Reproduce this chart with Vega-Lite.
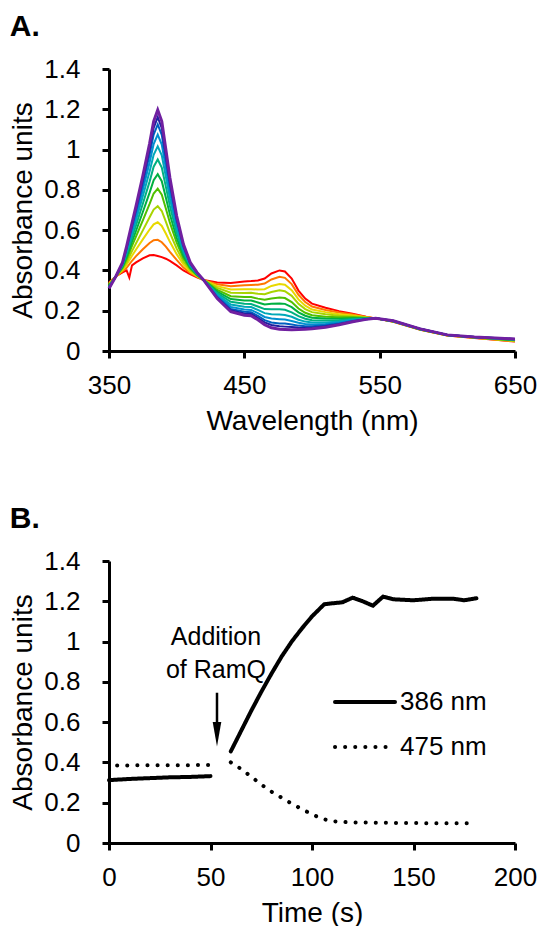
{
"$schema": "https://vega.github.io/schema/vega-lite/v6.json",
"padding": {"left": 9, "top": 12, "right": 5, "bottom": 2},
"background": "white",
"spacing": 69,
"resolve": {"legend": {"strokeDash": "independent"}},
"config": {
  "font": "Liberation Sans",
  "view": {"stroke": null},
  "axis": {"domainColor": "black", "domainWidth": 3, "tickColor": "black", "tickWidth": 3, "tickSize": 7, "grid": false, "labelFontSize": 26, "labelColor": "black", "titleFontSize": 28, "titleFontWeight": "normal", "titleColor": "black", "labelFont": "Liberation Sans", "titleFont": "Liberation Sans", "labelFlush": false, "labelOverlap": false, "labelBound": false},
  "axisX": {"labelPadding": 14, "titlePadding": 9},
  "axisY": {"labelPadding": 22, "titlePadding": 6},
  "title": {"font": "Liberation Sans", "fontSize": 30, "fontWeight": "bold", "anchor": "start", "frame": "bounds", "color": "black", "offset": 14}
},
"vconcat": [
{
  "title": {"text": "A."},
  "width": 406, "height": 282,
  "data": {"values": [
{"c":1,"w":350,"a":0.34},{"c":1,"w":355,"a":0.37},{"c":1,"w":360,"a":0.39},{"c":1,"w":363,"a":0.40},{"c":1,"w":365,"a":0.365},{"c":1,"w":367,"a":0.425},{"c":1,"w":370,"a":0.44},{"c":1,"w":375,"a":0.46},{"c":1,"w":380,"a":0.475},{"c":1,"w":383,"a":0.477},{"c":1,"w":386,"a":0.472},{"c":1,"w":389,"a":0.466},{"c":1,"w":392,"a":0.458},{"c":1,"w":395,"a":0.447},{"c":1,"w":400,"a":0.425},{"c":1,"w":405,"a":0.40},{"c":1,"w":410,"a":0.382},{"c":1,"w":415,"a":0.366},{"c":1,"w":420,"a":0.352},{"c":1,"w":430,"a":0.34},{"c":1,"w":440,"a":0.338},{"c":1,"w":450,"a":0.345},{"c":1,"w":455,"a":0.347},{"c":1,"w":460,"a":0.35},{"c":1,"w":465,"a":0.36},{"c":1,"w":470,"a":0.385},{"c":1,"w":476,"a":0.40},{"c":1,"w":480,"a":0.395},{"c":1,"w":485,"a":0.36},{"c":1,"w":490,"a":0.30},{"c":1,"w":495,"a":0.26},{"c":1,"w":500,"a":0.235},{"c":1,"w":510,"a":0.215},{"c":1,"w":520,"a":0.198},{"c":1,"w":530,"a":0.185},{"c":1,"w":540,"a":0.17},{"c":1,"w":547,"a":0.162},{"c":1,"w":560,"a":0.145},{"c":1,"w":580,"a":0.105},{"c":1,"w":600,"a":0.077},{"c":1,"w":620,"a":0.065},{"c":1,"w":650,"a":0.047},
{"c":2,"w":350,"a":0.337},{"c":2,"w":355,"a":0.37},{"c":2,"w":360,"a":0.396},{"c":2,"w":363,"a":0.413},{"c":2,"w":367,"a":0.448},{"c":2,"w":370,"a":0.471},{"c":2,"w":375,"a":0.505},{"c":2,"w":380,"a":0.536},{"c":2,"w":383,"a":0.55},{"c":2,"w":386,"a":0.552},{"c":2,"w":389,"a":0.54},{"c":2,"w":392,"a":0.518},{"c":2,"w":395,"a":0.492},{"c":2,"w":400,"a":0.452},{"c":2,"w":405,"a":0.414},{"c":2,"w":410,"a":0.388},{"c":2,"w":415,"a":0.369},{"c":2,"w":420,"a":0.352},{"c":2,"w":430,"a":0.331},{"c":2,"w":440,"a":0.322},{"c":2,"w":450,"a":0.327},{"c":2,"w":455,"a":0.328},{"c":2,"w":460,"a":0.329},{"c":2,"w":465,"a":0.335},{"c":2,"w":470,"a":0.355},{"c":2,"w":476,"a":0.368},{"c":2,"w":480,"a":0.363},{"c":2,"w":485,"a":0.332},{"c":2,"w":490,"a":0.279},{"c":2,"w":495,"a":0.243},{"c":2,"w":500,"a":0.221},{"c":2,"w":510,"a":0.204},{"c":2,"w":520,"a":0.191},{"c":2,"w":530,"a":0.181},{"c":2,"w":540,"a":0.169},{"c":2,"w":547,"a":0.162},{"c":2,"w":560,"a":0.146},{"c":2,"w":580,"a":0.106},{"c":2,"w":600,"a":0.077},{"c":2,"w":620,"a":0.066},{"c":2,"w":650,"a":0.048},
{"c":3,"w":350,"a":0.333},{"c":3,"w":355,"a":0.37},{"c":3,"w":360,"a":0.402},{"c":3,"w":363,"a":0.428},{"c":3,"w":367,"a":0.473},{"c":3,"w":370,"a":0.504},{"c":3,"w":375,"a":0.554},{"c":3,"w":380,"a":0.603},{"c":3,"w":383,"a":0.629},{"c":3,"w":386,"a":0.639},{"c":3,"w":389,"a":0.621},{"c":3,"w":392,"a":0.583},{"c":3,"w":395,"a":0.542},{"c":3,"w":400,"a":0.481},{"c":3,"w":405,"a":0.43},{"c":3,"w":410,"a":0.395},{"c":3,"w":415,"a":0.372},{"c":3,"w":420,"a":0.352},{"c":3,"w":430,"a":0.322},{"c":3,"w":440,"a":0.305},{"c":3,"w":450,"a":0.307},{"c":3,"w":455,"a":0.307},{"c":3,"w":460,"a":0.305},{"c":3,"w":465,"a":0.307},{"c":3,"w":470,"a":0.323},{"c":3,"w":476,"a":0.333},{"c":3,"w":480,"a":0.329},{"c":3,"w":485,"a":0.302},{"c":3,"w":490,"a":0.256},{"c":3,"w":495,"a":0.225},{"c":3,"w":500,"a":0.206},{"c":3,"w":510,"a":0.193},{"c":3,"w":520,"a":0.182},{"c":3,"w":530,"a":0.176},{"c":3,"w":540,"a":0.167},{"c":3,"w":547,"a":0.162},{"c":3,"w":560,"a":0.146},{"c":3,"w":580,"a":0.106},{"c":3,"w":600,"a":0.078},{"c":3,"w":620,"a":0.066},{"c":3,"w":650,"a":0.05},
{"c":4,"w":350,"a":0.33},{"c":4,"w":355,"a":0.37},{"c":4,"w":360,"a":0.407},{"c":4,"w":363,"a":0.441},{"c":4,"w":367,"a":0.496},{"c":4,"w":370,"a":0.535},{"c":4,"w":375,"a":0.599},{"c":4,"w":380,"a":0.664},{"c":4,"w":383,"a":0.702},{"c":4,"w":386,"a":0.719},{"c":4,"w":389,"a":0.695},{"c":4,"w":392,"a":0.642},{"c":4,"w":395,"a":0.587},{"c":4,"w":400,"a":0.508},{"c":4,"w":405,"a":0.444},{"c":4,"w":410,"a":0.402},{"c":4,"w":415,"a":0.374},{"c":4,"w":420,"a":0.352},{"c":4,"w":430,"a":0.313},{"c":4,"w":440,"a":0.289},{"c":4,"w":450,"a":0.288},{"c":4,"w":455,"a":0.289},{"c":4,"w":460,"a":0.284},{"c":4,"w":465,"a":0.282},{"c":4,"w":470,"a":0.293},{"c":4,"w":476,"a":0.301},{"c":4,"w":480,"a":0.297},{"c":4,"w":485,"a":0.274},{"c":4,"w":490,"a":0.234},{"c":4,"w":495,"a":0.208},{"c":4,"w":500,"a":0.193},{"c":4,"w":510,"a":0.182},{"c":4,"w":520,"a":0.175},{"c":4,"w":530,"a":0.171},{"c":4,"w":540,"a":0.166},{"c":4,"w":547,"a":0.162},{"c":4,"w":560,"a":0.147},{"c":4,"w":580,"a":0.107},{"c":4,"w":600,"a":0.078},{"c":4,"w":620,"a":0.067},{"c":4,"w":650,"a":0.051},
{"c":5,"w":350,"a":0.326},{"c":5,"w":355,"a":0.37},{"c":5,"w":360,"a":0.413},{"c":5,"w":363,"a":0.455},{"c":5,"w":367,"a":0.522},{"c":5,"w":370,"a":0.569},{"c":5,"w":375,"a":0.649},{"c":5,"w":380,"a":0.73},{"c":5,"w":383,"a":0.782},{"c":5,"w":386,"a":0.806},{"c":5,"w":389,"a":0.776},{"c":5,"w":392,"a":0.707},{"c":5,"w":395,"a":0.637},{"c":5,"w":400,"a":0.538},{"c":5,"w":405,"a":0.46},{"c":5,"w":410,"a":0.409},{"c":5,"w":415,"a":0.377},{"c":5,"w":420,"a":0.352},{"c":5,"w":430,"a":0.303},{"c":5,"w":440,"a":0.272},{"c":5,"w":450,"a":0.268},{"c":5,"w":455,"a":0.268},{"c":5,"w":460,"a":0.26},{"c":5,"w":465,"a":0.254},{"c":5,"w":470,"a":0.261},{"c":5,"w":476,"a":0.266},{"c":5,"w":480,"a":0.263},{"c":5,"w":485,"a":0.243},{"c":5,"w":490,"a":0.211},{"c":5,"w":495,"a":0.19},{"c":5,"w":500,"a":0.178},{"c":5,"w":510,"a":0.17},{"c":5,"w":520,"a":0.167},{"c":5,"w":530,"a":0.167},{"c":5,"w":540,"a":0.164},{"c":5,"w":547,"a":0.162},{"c":5,"w":560,"a":0.147},{"c":5,"w":580,"a":0.107},{"c":5,"w":600,"a":0.078},{"c":5,"w":620,"a":0.067},{"c":5,"w":650,"a":0.053},
{"c":6,"w":350,"a":0.323},{"c":6,"w":355,"a":0.37},{"c":6,"w":360,"a":0.418},{"c":6,"w":363,"a":0.467},{"c":6,"w":367,"a":0.543},{"c":6,"w":370,"a":0.597},{"c":6,"w":375,"a":0.69},{"c":6,"w":380,"a":0.786},{"c":6,"w":383,"a":0.848},{"c":6,"w":386,"a":0.878},{"c":6,"w":389,"a":0.843},{"c":6,"w":392,"a":0.762},{"c":6,"w":395,"a":0.678},{"c":6,"w":400,"a":0.562},{"c":6,"w":405,"a":0.473},{"c":6,"w":410,"a":0.414},{"c":6,"w":415,"a":0.379},{"c":6,"w":420,"a":0.352},{"c":6,"w":430,"a":0.295},{"c":6,"w":440,"a":0.258},{"c":6,"w":450,"a":0.251},{"c":6,"w":455,"a":0.251},{"c":6,"w":460,"a":0.241},{"c":6,"w":465,"a":0.231},{"c":6,"w":470,"a":0.234},{"c":6,"w":476,"a":0.236},{"c":6,"w":480,"a":0.234},{"c":6,"w":485,"a":0.218},{"c":6,"w":490,"a":0.192},{"c":6,"w":495,"a":0.175},{"c":6,"w":500,"a":0.165},{"c":6,"w":510,"a":0.161},{"c":6,"w":520,"a":0.16},{"c":6,"w":530,"a":0.163},{"c":6,"w":540,"a":0.163},{"c":6,"w":547,"a":0.162},{"c":6,"w":560,"a":0.148},{"c":6,"w":580,"a":0.108},{"c":6,"w":600,"a":0.079},{"c":6,"w":620,"a":0.068},{"c":6,"w":650,"a":0.054},
{"c":7,"w":350,"a":0.32},{"c":7,"w":355,"a":0.37},{"c":7,"w":360,"a":0.423},{"c":7,"w":363,"a":0.479},{"c":7,"w":367,"a":0.564},{"c":7,"w":370,"a":0.625},{"c":7,"w":375,"a":0.731},{"c":7,"w":380,"a":0.841},{"c":7,"w":383,"a":0.915},{"c":7,"w":386,"a":0.951},{"c":7,"w":389,"a":0.911},{"c":7,"w":392,"a":0.816},{"c":7,"w":395,"a":0.72},{"c":7,"w":400,"a":0.587},{"c":7,"w":405,"a":0.486},{"c":7,"w":410,"a":0.42},{"c":7,"w":415,"a":0.382},{"c":7,"w":420,"a":0.352},{"c":7,"w":430,"a":0.287},{"c":7,"w":440,"a":0.244},{"c":7,"w":450,"a":0.235},{"c":7,"w":455,"a":0.233},{"c":7,"w":460,"a":0.221},{"c":7,"w":465,"a":0.208},{"c":7,"w":470,"a":0.207},{"c":7,"w":476,"a":0.207},{"c":7,"w":480,"a":0.205},{"c":7,"w":485,"a":0.192},{"c":7,"w":490,"a":0.173},{"c":7,"w":495,"a":0.16},{"c":7,"w":500,"a":0.153},{"c":7,"w":510,"a":0.151},{"c":7,"w":520,"a":0.153},{"c":7,"w":530,"a":0.159},{"c":7,"w":540,"a":0.161},{"c":7,"w":547,"a":0.162},{"c":7,"w":560,"a":0.148},{"c":7,"w":580,"a":0.108},{"c":7,"w":600,"a":0.079},{"c":7,"w":620,"a":0.068},{"c":7,"w":650,"a":0.056},
{"c":8,"w":350,"a":0.318},{"c":8,"w":355,"a":0.37},{"c":8,"w":360,"a":0.428},{"c":8,"w":363,"a":0.49},{"c":8,"w":367,"a":0.583},{"c":8,"w":370,"a":0.65},{"c":8,"w":375,"a":0.768},{"c":8,"w":380,"a":0.891},{"c":8,"w":383,"a":0.974},{"c":8,"w":386,"a":1.016},{"c":8,"w":389,"a":0.972},{"c":8,"w":392,"a":0.865},{"c":8,"w":395,"a":0.757},{"c":8,"w":400,"a":0.609},{"c":8,"w":405,"a":0.498},{"c":8,"w":410,"a":0.426},{"c":8,"w":415,"a":0.384},{"c":8,"w":420,"a":0.352},{"c":8,"w":430,"a":0.28},{"c":8,"w":440,"a":0.231},{"c":8,"w":450,"a":0.22},{"c":8,"w":455,"a":0.218},{"c":8,"w":460,"a":0.204},{"c":8,"w":465,"a":0.188},{"c":8,"w":470,"a":0.183},{"c":8,"w":476,"a":0.181},{"c":8,"w":480,"a":0.179},{"c":8,"w":485,"a":0.17},{"c":8,"w":490,"a":0.155},{"c":8,"w":495,"a":0.146},{"c":8,"w":500,"a":0.141},{"c":8,"w":510,"a":0.142},{"c":8,"w":520,"a":0.147},{"c":8,"w":530,"a":0.155},{"c":8,"w":540,"a":0.16},{"c":8,"w":547,"a":0.162},{"c":8,"w":560,"a":0.149},{"c":8,"w":580,"a":0.109},{"c":8,"w":600,"a":0.079},{"c":8,"w":620,"a":0.069},{"c":8,"w":650,"a":0.057},
{"c":9,"w":350,"a":0.315},{"c":9,"w":355,"a":0.37},{"c":9,"w":360,"a":0.432},{"c":9,"w":363,"a":0.50},{"c":9,"w":367,"a":0.599},{"c":9,"w":370,"a":0.672},{"c":9,"w":375,"a":0.80},{"c":9,"w":380,"a":0.936},{"c":9,"w":383,"a":1.027},{"c":9,"w":386,"a":1.074},{"c":9,"w":389,"a":1.025},{"c":9,"w":392,"a":0.908},{"c":9,"w":395,"a":0.79},{"c":9,"w":400,"a":0.628},{"c":9,"w":405,"a":0.508},{"c":9,"w":410,"a":0.43},{"c":9,"w":415,"a":0.386},{"c":9,"w":420,"a":0.352},{"c":9,"w":430,"a":0.274},{"c":9,"w":440,"a":0.219},{"c":9,"w":450,"a":0.206},{"c":9,"w":455,"a":0.204},{"c":9,"w":460,"a":0.188},{"c":9,"w":465,"a":0.169},{"c":9,"w":470,"a":0.161},{"c":9,"w":476,"a":0.158},{"c":9,"w":480,"a":0.156},{"c":9,"w":485,"a":0.149},{"c":9,"w":490,"a":0.14},{"c":9,"w":495,"a":0.134},{"c":9,"w":500,"a":0.131},{"c":9,"w":510,"a":0.134},{"c":9,"w":520,"a":0.142},{"c":9,"w":530,"a":0.152},{"c":9,"w":540,"a":0.159},{"c":9,"w":547,"a":0.162},{"c":9,"w":560,"a":0.149},{"c":9,"w":580,"a":0.109},{"c":9,"w":600,"a":0.079},{"c":9,"w":620,"a":0.069},{"c":9,"w":650,"a":0.058},
{"c":10,"w":350,"a":0.313},{"c":10,"w":355,"a":0.37},{"c":10,"w":360,"a":0.435},{"c":10,"w":363,"a":0.508},{"c":10,"w":367,"a":0.614},{"c":10,"w":370,"a":0.692},{"c":10,"w":375,"a":0.829},{"c":10,"w":380,"a":0.975},{"c":10,"w":383,"a":1.074},{"c":10,"w":386,"a":1.125},{"c":10,"w":389,"a":1.073},{"c":10,"w":392,"a":0.946},{"c":10,"w":395,"a":0.819},{"c":10,"w":400,"a":0.646},{"c":10,"w":405,"a":0.517},{"c":10,"w":410,"a":0.434},{"c":10,"w":415,"a":0.388},{"c":10,"w":420,"a":0.352},{"c":10,"w":430,"a":0.268},{"c":10,"w":440,"a":0.209},{"c":10,"w":450,"a":0.195},{"c":10,"w":455,"a":0.192},{"c":10,"w":460,"a":0.175},{"c":10,"w":465,"a":0.153},{"c":10,"w":470,"a":0.142},{"c":10,"w":476,"a":0.137},{"c":10,"w":480,"a":0.136},{"c":10,"w":485,"a":0.131},{"c":10,"w":490,"a":0.126},{"c":10,"w":495,"a":0.123},{"c":10,"w":500,"a":0.123},{"c":10,"w":510,"a":0.128},{"c":10,"w":520,"a":0.137},{"c":10,"w":530,"a":0.149},{"c":10,"w":540,"a":0.158},{"c":10,"w":547,"a":0.162},{"c":10,"w":560,"a":0.15},{"c":10,"w":580,"a":0.11},{"c":10,"w":600,"a":0.08},{"c":10,"w":620,"a":0.07},{"c":10,"w":650,"a":0.059},
{"c":11,"w":350,"a":0.312},{"c":11,"w":355,"a":0.37},{"c":11,"w":360,"a":0.438},{"c":11,"w":363,"a":0.514},{"c":11,"w":367,"a":0.625},{"c":11,"w":370,"a":0.706},{"c":11,"w":375,"a":0.85},{"c":11,"w":380,"a":1.002},{"c":11,"w":383,"a":1.107},{"c":11,"w":386,"a":1.161},{"c":11,"w":389,"a":1.106},{"c":11,"w":392,"a":0.973},{"c":11,"w":395,"a":0.839},{"c":11,"w":400,"a":0.658},{"c":11,"w":405,"a":0.524},{"c":11,"w":410,"a":0.437},{"c":11,"w":415,"a":0.389},{"c":11,"w":420,"a":0.352},{"c":11,"w":430,"a":0.264},{"c":11,"w":440,"a":0.202},{"c":11,"w":450,"a":0.186},{"c":11,"w":455,"a":0.184},{"c":11,"w":460,"a":0.165},{"c":11,"w":465,"a":0.142},{"c":11,"w":470,"a":0.129},{"c":11,"w":476,"a":0.123},{"c":11,"w":480,"a":0.121},{"c":11,"w":485,"a":0.119},{"c":11,"w":490,"a":0.117},{"c":11,"w":495,"a":0.116},{"c":11,"w":500,"a":0.116},{"c":11,"w":510,"a":0.123},{"c":11,"w":520,"a":0.133},{"c":11,"w":530,"a":0.147},{"c":11,"w":540,"a":0.158},{"c":11,"w":547,"a":0.162},{"c":11,"w":560,"a":0.15},{"c":11,"w":580,"a":0.11},{"c":11,"w":600,"a":0.08},{"c":11,"w":620,"a":0.07},{"c":11,"w":650,"a":0.059},
{"c":12,"w":350,"a":0.31},{"c":12,"w":355,"a":0.37},{"c":12,"w":360,"a":0.44},{"c":12,"w":363,"a":0.52},{"c":12,"w":367,"a":0.635},{"c":12,"w":370,"a":0.72},{"c":12,"w":375,"a":0.87},{"c":12,"w":380,"a":1.03},{"c":12,"w":383,"a":1.14},{"c":12,"w":386,"a":1.197},{"c":12,"w":389,"a":1.14},{"c":12,"w":392,"a":1.0},{"c":12,"w":395,"a":0.86},{"c":12,"w":400,"a":0.67},{"c":12,"w":405,"a":0.53},{"c":12,"w":410,"a":0.44},{"c":12,"w":415,"a":0.39},{"c":12,"w":420,"a":0.352},{"c":12,"w":430,"a":0.26},{"c":12,"w":440,"a":0.195},{"c":12,"w":450,"a":0.178},{"c":12,"w":455,"a":0.175},{"c":12,"w":460,"a":0.155},{"c":12,"w":465,"a":0.13},{"c":12,"w":470,"a":0.115},{"c":12,"w":476,"a":0.108},{"c":12,"w":480,"a":0.107},{"c":12,"w":485,"a":0.106},{"c":12,"w":490,"a":0.107},{"c":12,"w":495,"a":0.108},{"c":12,"w":500,"a":0.11},{"c":12,"w":510,"a":0.118},{"c":12,"w":520,"a":0.13},{"c":12,"w":530,"a":0.145},{"c":12,"w":540,"a":0.157},{"c":12,"w":547,"a":0.162},{"c":12,"w":560,"a":0.15},{"c":12,"w":580,"a":0.11},{"c":12,"w":600,"a":0.08},{"c":12,"w":620,"a":0.07},{"c":12,"w":650,"a":0.06}
  ]},
  "encoding": {
    "x": {"field": "w", "type": "quantitative", "scale": {"domain": [350, 650], "nice": false}, "axis": {"values": [350, 450, 550, 650], "title": "Wavelength (nm)"}},
    "y": {"field": "a", "type": "quantitative", "scale": {"domain": [0, 1.4], "nice": false}, "axis": {"values": [0, 0.2, 0.4, 0.6, 0.8, 1, 1.2, 1.4], "format": "~g", "title": "Absorbance units"}},
    "color": {"field": "c", "type": "ordinal", "scale": {"domain": [1,2,3,4,5,6,7,8,9,10,11,12], "range": ["#ff0000", "#ff7700", "#e8d800", "#a8d400", "#50c000", "#00b040", "#00b080", "#00a8b8", "#0090d0", "#0060c0", "#2020a0", "#7020a0"]}, "legend": null}
  },
  "layer": [
    {"transform": [{"filter": "datum.c < 12"}], "mark": {"type": "line", "strokeWidth": 2}},
    {"transform": [{"filter": "datum.c == 12"}], "mark": {"type": "line", "strokeWidth": 3}}
  ]
},
{
  "title": {"text": "B."},
  "width": 406, "height": 282,
  "layer": [
    {
      "data": {"values": [
{"s":"386 nm","g":1,"t":0,"a":0.312},{"s":"386 nm","g":1,"t":10,"a":0.318},{"s":"386 nm","g":1,"t":20,"a":0.322},{"s":"386 nm","g":1,"t":30,"a":0.326},{"s":"386 nm","g":1,"t":40,"a":0.328},{"s":"386 nm","g":1,"t":50,"a":0.332},
{"s":"386 nm","g":2,"t":60,"a":0.455},{"s":"386 nm","g":2,"t":65,"a":0.555},{"s":"386 nm","g":2,"t":70,"a":0.655},{"s":"386 nm","g":2,"t":75,"a":0.75},{"s":"386 nm","g":2,"t":80,"a":0.84},{"s":"386 nm","g":2,"t":85,"a":0.925},{"s":"386 nm","g":2,"t":90,"a":1.0},{"s":"386 nm","g":2,"t":95,"a":1.065},{"s":"386 nm","g":2,"t":100,"a":1.125},{"s":"386 nm","g":2,"t":106,"a":1.185},{"s":"386 nm","g":2,"t":110,"a":1.19},{"s":"386 nm","g":2,"t":115,"a":1.195},{"s":"386 nm","g":2,"t":120,"a":1.218},{"s":"386 nm","g":2,"t":125,"a":1.2},{"s":"386 nm","g":2,"t":130,"a":1.178},{"s":"386 nm","g":2,"t":135,"a":1.223},{"s":"386 nm","g":2,"t":140,"a":1.21},{"s":"386 nm","g":2,"t":150,"a":1.205},{"s":"386 nm","g":2,"t":160,"a":1.213},{"s":"386 nm","g":2,"t":170,"a":1.212},{"s":"386 nm","g":2,"t":175,"a":1.205},{"s":"386 nm","g":2,"t":181,"a":1.215},
{"s":"475 nm","g":3,"t":4,"a":0.385},{"s":"475 nm","g":3,"t":50,"a":0.387},
{"s":"475 nm","g":4,"t":60,"a":0.40},{"s":"475 nm","g":4,"t":65,"a":0.368},{"s":"475 nm","g":4,"t":70,"a":0.33},{"s":"475 nm","g":4,"t":75,"a":0.29},{"s":"475 nm","g":4,"t":80,"a":0.255},{"s":"475 nm","g":4,"t":85,"a":0.225},{"s":"475 nm","g":4,"t":90,"a":0.195},{"s":"475 nm","g":4,"t":95,"a":0.168},{"s":"475 nm","g":4,"t":100,"a":0.143},{"s":"475 nm","g":4,"t":105,"a":0.12},{"s":"475 nm","g":4,"t":110,"a":0.108},{"s":"475 nm","g":4,"t":120,"a":0.102},{"s":"475 nm","g":4,"t":140,"a":0.1},{"s":"475 nm","g":4,"t":160,"a":0.098},{"s":"475 nm","g":4,"t":181,"a":0.098}
      ]},
      "mark": {"type": "line", "strokeWidth": 4, "strokeCap": "round", "color": "black"},
      "encoding": {
        "x": {"field": "t", "type": "quantitative", "scale": {"domain": [0, 200], "nice": false}, "axis": {"values": [0, 50, 100, 150, 200], "title": "Time (s)"}},
        "y": {"field": "a", "type": "quantitative", "scale": {"domain": [0, 1.4], "nice": false}, "axis": {"values": [0, 0.2, 0.4, 0.6, 0.8, 1, 1.2, 1.4], "format": "~g", "title": "Absorbance units"}},
        "detail": {"field": "g", "type": "nominal"},
        "strokeDash": {"field": "s", "type": "nominal", "scale": {"domain": ["386 nm", "475 nm"], "range": [[1, 0], [0.1, 10]]},
          "legend": {"orient": "none", "legendX": 224, "legendY": 109, "title": null, "symbolType": "stroke", "symbolSize": 3600, "symbolStrokeWidth": 4, "symbolStrokeColor": "black", "labelFontSize": 26, "labelOffset": 3, "rowPadding": -27, "labelColor": "black", "labelFont": "Liberation Sans",
            "encode": {"symbols": {"update": {"strokeCap": {"value": "round"}}}}}}
      }
    },
    {
      "data": {"values": [{"t": 52.7, "a": 1.023, "txt": "Addition\nof RamQ"}]},
      "mark": {"type": "text", "lineBreak": "\n", "fontSize": 25, "lineHeight": 33, "align": "center", "baseline": "middle", "color": "black", "font": "Liberation Sans"},
      "encoding": {"x": {"field": "t", "type": "quantitative"}, "y": {"field": "a", "type": "quantitative"}, "text": {"field": "txt"}}
    },
    {
      "data": {"values": [{"t": 53.2, "a": 0.746, "a2": 0.56}]},
      "mark": {"type": "rule", "strokeWidth": 2.5, "color": "black"},
      "encoding": {"x": {"field": "t", "type": "quantitative"}, "y": {"field": "a", "type": "quantitative"}, "y2": {"field": "a2"}}
    },
    {
      "data": {"values": [{"t": 53.2, "a": 0.54}]},
      "mark": {"type": "point", "shape": "M-0.35,-1L0.35,-1L0,1Z", "size": 600, "filled": true, "color": "black", "opacity": 1, "strokeWidth": 0},
      "encoding": {"x": {"field": "t", "type": "quantitative"}, "y": {"field": "a", "type": "quantitative"}}
    }
  ]
}
]
}
